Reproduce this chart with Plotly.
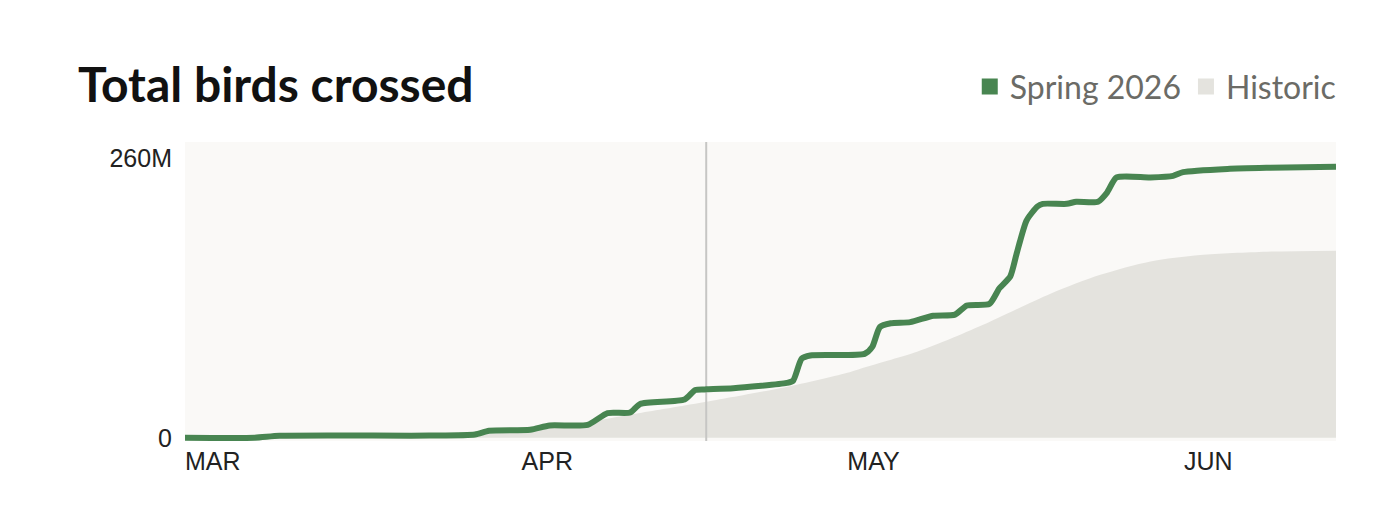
import plotly.graph_objects as go

# Spring 2026 cumulative count (millions)
spring_dates = [
    "2026-03-01", "2026-03-07 10:00", "2026-03-09 17:00", "2026-03-23 12:00",
    "2026-03-27 17:00", "2026-03-29", "2026-04-01 19:00", "2026-04-03 14:00",
    "2026-04-07 02:00", "2026-04-08 22:00", "2026-04-11", "2026-04-11 22:00",
    "2026-04-16", "2026-04-17", "2026-04-18", "2026-04-20 12:00",
    "2026-04-25 10:00", "2026-04-26", "2026-04-26 19:00", "2026-04-27 14:00",
    "2026-05-02 14:00", "2026-05-03 07:00", "2026-05-04", "2026-05-05",
    "2026-05-06 19:00", "2026-05-08 22:00", "2026-05-10 22:00", "2026-05-12",
    "2026-05-14 02:00", "2026-05-15", "2026-05-16", "2026-05-16 14:00",
    "2026-05-17 12:00", "2026-05-18 12:00", "2026-05-19", "2026-05-21 05:00",
    "2026-05-22 02:00", "2026-05-24 02:00", "2026-05-24 22:00", "2026-05-25 19:00",
    "2026-05-28 22:00", "2026-05-31", "2026-05-31 22:00", "2026-06-05",
    "2026-06-08 14:00", "2026-06-15",
]
spring_vals = [
    0, 0, 1.8, 2,
    3, 6.5, 7.5, 11.5,
    12, 23, 23.5, 31.5,
    35.5, 44.5, 45, 46,
    51, 53, 73.5, 76.5,
    78, 84.5, 103, 106.5,
    107.5, 113.5, 114.5, 123,
    124.5, 139, 150, 171,
    202, 215, 217.5, 217.5,
    219.5, 219.5, 228, 242,
    242, 243.5, 247, 250,
    251, 252,
]

# historic average cumulative count (millions)
hist_dates = [
    "2026-03-01", "2026-03-15", "2026-03-25", "2026-03-31", "2026-04-05",
    "2026-04-08", "2026-04-11 07:00", "2026-04-16", "2026-04-18",
    "2026-04-25 17:00", "2026-05-01 05:00", "2026-05-02 19:00",
    "2026-05-07 10:00", "2026-05-10 12:00", "2026-05-13 12:00",
    "2026-05-19 17:00", "2026-05-24 07:00", "2026-05-28 22:00",
    "2026-06-02 12:00", "2026-06-08 14:00", "2026-06-15",
]
hist_vals = [
    0, 0.3, 1.5, 5, 11,
    16, 22, 30, 33.5,
    48, 61, 66,
    80, 92, 105,
    134, 151.5, 164,
    170, 173, 174,
]

today = "2026-04-18"
x_range = ["2026-03-01", "2026-06-15"]
y_top = 275
month_ticks = ["2026-03-01", "2026-04-01", "2026-05-01", "2026-06-01"]
month_labels = ["MAR", "APR", "MAY", "JUN"]
y_ticks = [0, 260]
y_labels = ["0", "260M"]

GREEN = "#488551"
GREY = "#e4e3de"

fig = go.Figure()

fig.add_trace(go.Scatter(
    x=hist_dates, y=hist_vals, mode="lines", fill="tozeroy",
    line=dict(width=0, color=GREY, shape="spline", smoothing=0.8),
    fillcolor=GREY, showlegend=False, hoverinfo="skip",
))

# today marker, above the area and under the line
fig.add_trace(go.Scatter(
    x=[today, today], y=[-3, y_top], mode="lines",
    line=dict(color="#c6c6c4", width=2), showlegend=False, hoverinfo="skip",
))

fig.add_trace(go.Scatter(
    x=spring_dates, y=spring_vals, mode="lines",
    line=dict(color=GREEN, width=6, shape="spline", smoothing=0.6),
    showlegend=False,
))

# legend entries as squares
fig.add_trace(go.Scatter(x=[None], y=[None], mode="markers", name="Spring 2026",
                         marker=dict(symbol="square", size=20, color=GREEN)))
fig.add_trace(go.Scatter(x=[None], y=[None], mode="markers", name="Historic",
                         marker=dict(symbol="square", size=20, color=GREY)))

# page body has an 8px margin, so the figure is 8px smaller each way
fig.update_layout(
    width=1384, height=514,
    margin=dict(l=177, r=56, t=134, b=81),
    paper_bgcolor="white", plot_bgcolor="#faf9f7",
    title=dict(text="<b>Total birds crossed</b>", xref="container", yref="container",
               x=70 / 1384, xanchor="left", y=1 - 77 / 514, yanchor="middle",
               font=dict(family="Lato", size=48, color="#111111")),
    legend=dict(orientation="h", xanchor="right", x=1.005, yanchor="middle", y=1.185,
                font=dict(family="Lato", size=32, color="#6b6b66"),
                bgcolor="rgba(0,0,0,0)"),
    showlegend=True,
    hovermode=False,
)

fig.update_xaxes(
    type="date", range=x_range, showgrid=False, zeroline=False, showline=False,
    tickvals=month_ticks, ticktext=month_labels, ticks="",
    ticklabelposition="outside right", ticklabelstandoff=3,
    tickfont=dict(family="Liberation Sans", size=25, color="#222222"),
)
fig.update_yaxes(
    range=[-3, y_top], showgrid=False, zeroline=False, showline=False,
    tickvals=y_ticks, ticktext=y_labels, ticks="", ticklabelstandoff=12,
    tickfont=dict(family="Liberation Sans", size=25, color="#222222"),
)

fig.write_html("out.html")
